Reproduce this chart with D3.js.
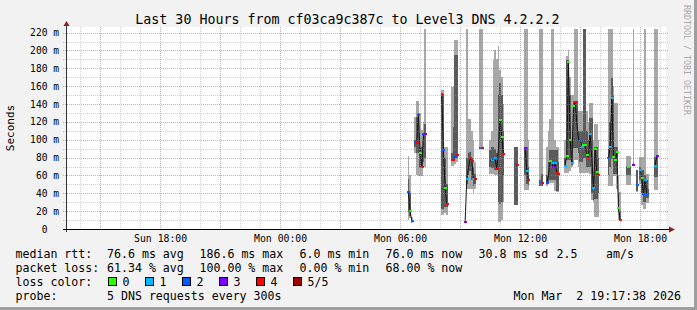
<!DOCTYPE html>
<html>
<head>
<meta charset="utf-8">
<script src="https://cdn.jsdelivr.net/npm/d3@7"></script>
<style>
  html, body { margin: 0; padding: 0; overflow: hidden; background: #f2f2f2; }
  svg { display: block; }
</style>
</head>
<body>
<svg id="chart" width="697" height="310" viewBox="0 0 697 310"></svg>
<script>
// values (ms), one entry per 5 minute sample on Mon Mar 2
const sampleTimes = ["06:25","06:30","06:35","06:45","06:50","06:55","07:00","07:05","07:10","07:15",
  "08:05","08:10","08:15","08:20","08:35","08:40","08:45","08:50","09:15","09:20",
  "09:25","09:30","09:35","09:40","09:45","10:00","10:05","10:30","10:35","10:40",
  "10:45","10:50","10:55","11:00","11:05","11:10","11:45","11:50","12:15","12:20",
  "12:25","13:00","13:05","13:20","13:25","13:30","13:35","13:40","13:45","13:50",
  "13:55","14:15","14:20","14:25","14:30","14:35","14:40","14:45","14:50","14:55",
  "15:00","15:05","15:10","15:15","15:20","15:25","15:30","15:35","15:40","15:45",
  "15:50","15:55","16:25","16:30","16:35","16:40","16:45","16:50","16:55","17:00",
  "17:20","17:25","17:30","17:40","17:50","18:00","18:05","18:10","18:15","18:20",
  "18:25","18:45","18:50"];
const pingMin = [10,12,7,85,60,59,59,59,70,70,
  16,16,18,16,71,71,73,75,7,45,
  45,45,45,40,45,90,90,62,62,62,
  60,60,8,8,10,30,27,27,44,44,
  44,48,48,48,50,51,51,51,43,41,
  41,63,63,63,65,70,75,77,77,70,
  63,63,63,63,63,63,62,32,30,13,
  13,13,48,48,48,59,59,45,10,10,
  49,49,49,72,41,50,27,22,22,29,
  29,44,44];
const pingQ1 = [19,15,8,92,85,85,68,68,75,80,
  22,22,25,25,77,77,80,80,7,50,
  60,65,55,48,50,90,90,70,68,68,
  66,66,30,28,30,60,27,27,60,50,
  49,48,48,50,52,55,55,55,55,43,
  43,70,77,77,77,72,91,91,91,85,
  75,75,79,79,70,70,70,40,32,34,
  34,40,60,70,78,62,62,62,20,10,
  61,61,61,72,43,55,40,30,30,35,
  35,58,58];
const pingMedian = [41,20,9,97,96,128,85,69,106,106,
  150,89,46,28,77,77,82,83,7.5,56,
  68,80,76,56,56,91,91,76,77,78,
  79,67,90,122,103,84,73,72,91,65,
  55,52,52,52,60,76,74,69,74,63,
  62,71,82,187,100,74,138,142,120,100,
  100,92,94,94,83,80,106,80,46,90,
  64,60,79,92,147,81,77,86,23,10,
  70,70,70,72,49,66,57,39,55,39,
  39,71,82];
const pingQ3 = [56,40,10,100,126,130,92,92,108,118,
  152,150,80,50,85,114,195,195,8,80,
  85,86,80,70,62,92,92,88,92,92,
  90,85,150,163,150,110,92,92,92,92,
  70,55,62,60,75,89,89,89,89,89,
  75,80,189,189,150,100,143,143,143,110,
  110,110,224,224,110,100,124,124,60,92,
  92,80,90,120,169,150,92,92,40,20,
  70,70,70,74,66,70,66,66,60,55,
  45,81,83];
const pingMax = [82,60,14,126,143,143,130,111,120,224,
  156,156,92,92,159,159,212,212,8,224,
  123,123,110,100,75,224,224,100,110,189,
  200,190,205,178,170,140,92,92,224,224,
  100,224,224,92,110,123,224,224,100,92,
  92,100,194,200,170,150,150,224,224,132,
  132,132,224,224,132,120,141,141,100,118,
  118,100,224,224,224,160,141,141,60,41,
  82,82,82,224,66,81,81,81,224,62,
  62,224,224];
// packets lost out of 5 (null: no loss mark visible)
const sampleLoss = [2,0,2,2,4,2,0,4,2,3,
  4,2,0,4,2,4,2,4,3,1,
  null,4,4,1,4,2,4,null,1,2,
  1,4,null,0,0,4,2,4,3,1,
  4,2,4,2,null,0,1,3,1,4,
  4,1,0,0,0,1,0,4,null,null,
  2,1,0,0,0,4,1,null,1,0,
  0,4,2,1,1,0,0,0,0,4,
  null,0,null,3,2,1,0,2,1,2,
  null,1,3];

const lossLabels = ["0", "1", "2", "3", "4", "5/5"];
const lossColors = ["#26ff00", "#00b8ff", "#0059ff", "#7e00ff", "#ff0000", "#a10000"];
const rttStats = ["76.6 ms avg", "186.6 ms max", "6.0 ms min", "76.0 ms now", "30.8 ms sd", "2.5", "am/s"];
const lossStats = ["61.34 % avg", "100.00 % max", "0.00 % min", "68.00 % now"];
const yTickValues = [0, 20, 40, 60, 80, 100, 120, 140, 160, 180, 200, 220];
const title = "Last 30 Hours from cf03ca9c387c to Level3 DNS 4.2.2.2";
const probeText = "5 DNS requests every 300s";
const stampText = "Mon Mar\u00a0\u00a02 19:17:38 2026";

const mono = '"DejaVu Sans Mono", monospace';
const svg = d3.select('#chart');
const width = 697, height = 310;
const margin = { top: 29, right: 31, bottom: 81, left: 66 };
const innerWidth = width - margin.left - margin.right;
const innerHeight = height - margin.top - margin.bottom;
const x0 = margin.left, x1 = margin.left + innerWidth;
const yTop = margin.top, yBottom = margin.top + innerHeight;

const parseTime = d3.timeParse("%Y-%m-%d %H:%M:%S");
const startTime = parseTime("2026-03-01 13:17:38");
const endTime = parseTime("2026-03-02 19:17:38");

const samples = sampleTimes.map((t, i) => ({
    time: parseTime(`2026-03-02 ${t}:00`),
    lo: pingMin[i], q1: pingQ1[i], med: pingMedian[i], q3: pingQ3[i], hi: pingMax[i],
    loss: sampleLoss[i]
}));

const xScale = d3.scaleTime().domain([startTime, endTime]).range([x0, x1]);
const yScale = d3.scaleLinear().domain([0, 224]).range([yBottom, yTop]);

// frame
svg.append('rect').attr('width', width).attr('height', height).attr('fill', '#f2f2f2');
svg.append('rect').attr('x', width - 3).attr('y', 0).attr('width', 3).attr('height', height).attr('fill', '#9e9e9e');
svg.append('rect').attr('x', 0).attr('y', height - 3).attr('width', width).attr('height', 3).attr('fill', '#9e9e9e');
svg.append('rect').attr('x', x0).attr('y', yTop - 2).attr('width', innerWidth).attr('height', innerHeight + 2).attr('fill', '#fff');

// smoke
const halfStep = 150 * 1000;
const left = d => xScale(new Date(+d.time - halfStep));
const right = d => xScale(new Date(+d.time + halfStep));
const plot = svg.append('g').attr('shape-rendering', 'crispEdges');

plot.selectAll('rect.outer').data(samples).enter().append('rect')
    .attr('class', 'outer')
    .attr('x', left)
    .attr('width', d => right(d) - left(d))
    .attr('y', d => yScale(d.hi))
    .attr('height', d => yScale(d.lo) - yScale(d.hi))
    .attr('fill', '#a8a8a8');

plot.selectAll('rect.inner').data(samples).enter().append('rect')
    .attr('class', 'inner')
    .attr('x', left)
    .attr('width', d => right(d) - left(d))
    .attr('y', d => yScale(d.q3))
    .attr('height', d => yScale(d.q1) - yScale(d.q3))
    .attr('fill', '#5a5a5a');

// median line, broken where samples are missing
const byTime = new Map(samples.map(d => [+d.time, d]));
const slots = d3.timeMinute.every(5).range(samples[0].time, new Date(+samples[samples.length - 1].time + 1))
    .map(t => byTime.get(+t) || { time: t, med: null });
const medianLine = d3.line()
    .defined(d => d.med != null)
    .x(d => xScale(d.time))
    .y(d => yScale(d.med));
svg.append('path').datum(slots)
    .attr('d', medianLine)
    .attr('fill', 'none')
    .attr('stroke', '#111')
    .attr('stroke-width', 1);

svg.append('g').attr('shape-rendering', 'crispEdges')
    .selectAll('rect').data(samples.filter(d => d.loss != null)).enter().append('rect')
    .attr('x', d => Math.round(xScale(d.time)) - 1)
    .attr('y', d => Math.round(yScale(d.med)) - 1)
    .attr('width', 3)
    .attr('height', 2)
    .attr('fill', d => lossColors[d.loss]);

// grid on top of the data, like rrdtool
const grid = svg.append('g');
const minorColor = 'rgba(150,150,150,0.45)';
const majorColor = 'rgba(228,90,90,0.6)';

d3.timeHour.range(startTime, endTime).forEach(h => {
    const gx = Math.round(xScale(h)) + 0.5;
    grid.append('line')
        .attr('x1', gx).attr('x2', gx).attr('y1', yTop - 2).attr('y2', yBottom + 2)
        .attr('stroke', h.getHours() % 3 === 0 ? majorColor : minorColor)
        .attr('stroke-dasharray', '1,1');
});
d3.range(10, 224, 10).forEach(v => {
    const gy = Math.round(yScale(v)) + 0.5;
    grid.append('line')
        .attr('x1', x0 - 3).attr('x2', x1 + 3).attr('y1', gy).attr('y2', gy)
        .attr('stroke', v % 20 === 0 ? majorColor : minorColor)
        .attr('stroke-dasharray', '1,1');
});

// axes lines and arrows
svg.append('line').attr('x1', x0 + 0.5).attr('x2', x0 + 0.5).attr('y1', yBottom + 3).attr('y2', yTop - 3)
    .attr('stroke', '#333');
svg.append('line').attr('x1', x0 - 3).attr('x2', x1 + 4).attr('y1', yBottom + 0.5).attr('y2', yBottom + 0.5)
    .attr('stroke', '#000');
svg.append('path').attr('d', `M${x0 - 2.5},${yTop - 3}L${x0 + 3.5},${yTop - 3}L${x0 + 0.5},${yTop - 8}Z`)
    .attr('fill', '#8c1f1f');
svg.append('path').attr('d', `M${x1 + 3},${yBottom - 2.5}L${x1 + 3},${yBottom + 3.5}L${x1 + 9},${yBottom + 0.5}Z`)
    .attr('fill', '#8c1f1f');

// tick labels
const xAxis = d3.axisBottom(xScale)
    .tickValues(d3.timeHour.range(startTime, endTime).filter(h => h.getHours() % 6 === 0))
    .tickFormat(d3.timeFormat("%a %H:%M"))
    .tickSize(0)
    .tickPadding(6);
const xAxisG = svg.append('g').attr('transform', `translate(0,${yBottom})`).call(xAxis)
    .attr('font-size', 9.8).attr('font-family', mono);
xAxisG.select('.domain').remove();
xAxisG.selectAll('text').attr('fill', '#000');

const yAxis = d3.axisLeft(yScale)
    .tickValues(yTickValues)
    .tickFormat(d => d === 0 ? "0\u00a0\u00a0" : `${d} m`)
    .tickSize(0)
    .tickPadding(7);
const yAxisG = svg.append('g').attr('transform', `translate(${x0},0)`).call(yAxis)
    .attr('font-size', 9.6).attr('font-family', mono);
yAxisG.select('.domain').remove();
yAxisG.selectAll('text').attr('fill', '#000');

svg.append('text')
    .attr('transform', 'translate(13.5,128) rotate(-90)')
    .attr('text-anchor', 'middle')
    .attr('font-family', mono).attr('font-size', 11)
    .text('Seconds');

svg.append('text')
    .attr('x', 347.5).attr('y', 24)
    .attr('text-anchor', 'middle')
    .attr('font-family', mono).attr('font-size', 13.3)
    .text(title);

svg.append('text')
    .attr('transform', 'translate(684,5) rotate(90)')
    .attr('font-family', mono).attr('font-size', 8.3)
    .attr('fill', '#a8a8a8')
    .text('RRDTOOL / TOBI OETIKER');

// legend
const legend = svg.append('g').attr('font-family', mono).attr('font-size', 11.6);
const rowY = [258, 272, 286, 300];
const statX = [107, 199.5, 299.5, 385.5, 478.5, 556.5, 606];

legend.append('text').attr('x', 15.5).attr('y', rowY[0]).text('median rtt:');
rttStats.forEach((s, i) => legend.append('text').attr('x', statX[i]).attr('y', rowY[0]).text(s));
legend.append('text').attr('x', 15.5).attr('y', rowY[1]).text('packet loss:');
lossStats.forEach((s, i) => legend.append('text').attr('x', statX[i]).attr('y', rowY[1]).text(s));
legend.append('text').attr('x', 15.5).attr('y', rowY[2]).text('loss color:');
lossLabels.forEach((s, i) => {
    const bx = 108.5 + i * 37;
    legend.append('rect')
        .attr('x', bx).attr('y', rowY[2] - 8.5).attr('width', 8).attr('height', 8)
        .attr('fill', lossColors[i]).attr('stroke', '#000');
    legend.append('text').attr('x', bx + 14).attr('y', rowY[2]).text(s);
});
legend.append('text').attr('x', 15.5).attr('y', rowY[3]).text('probe:');
legend.append('text').attr('x', statX[0]).attr('y', rowY[3]).text(probeText);
legend.append('text').attr('x', 681).attr('y', rowY[3]).attr('text-anchor', 'end').text(stampText);
</script>
</body>
</html>
